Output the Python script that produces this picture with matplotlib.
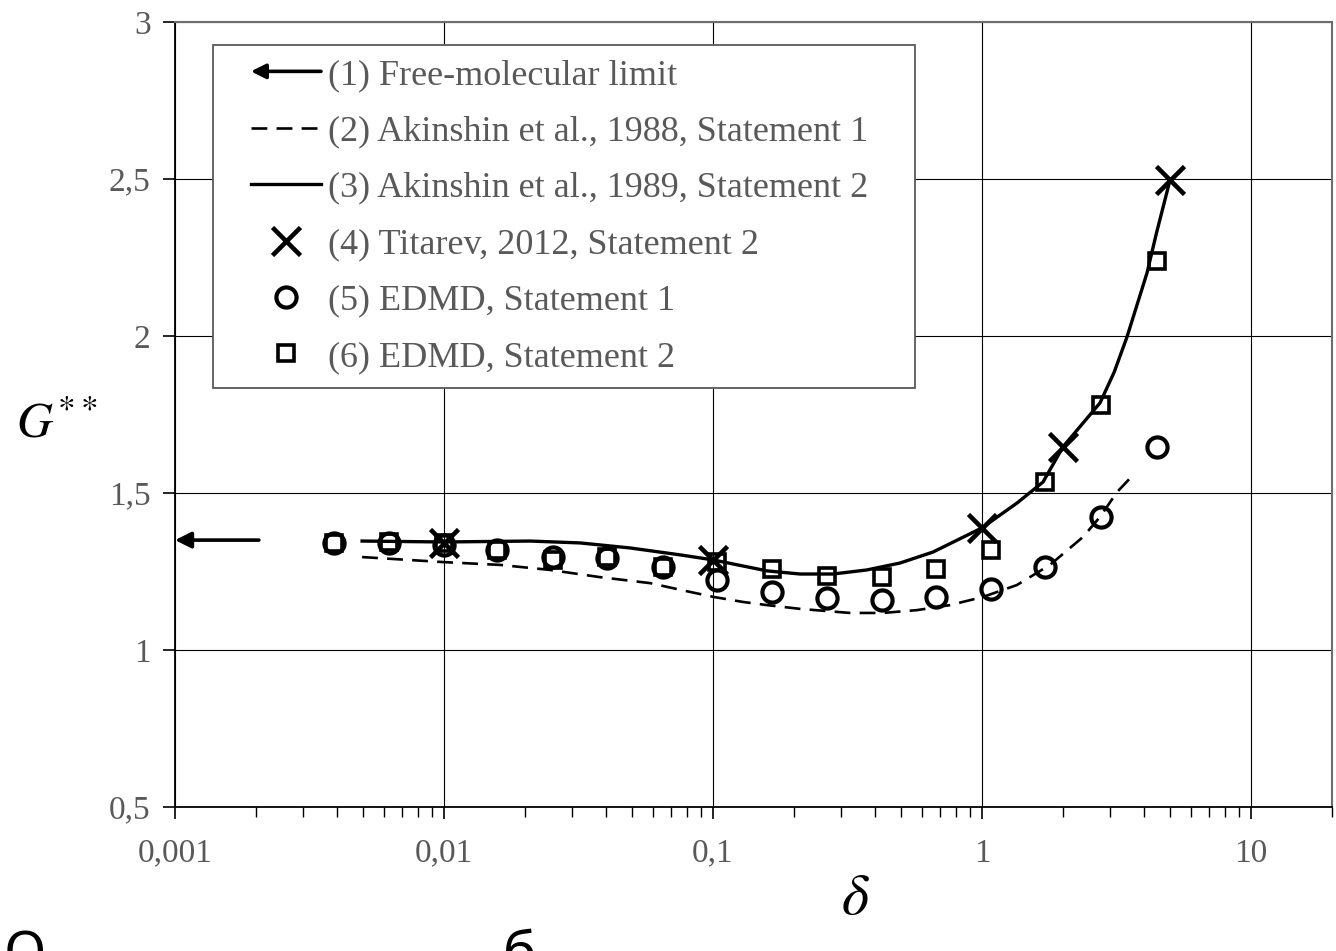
import matplotlib
matplotlib.use("Agg")
import matplotlib.pyplot as plt
from matplotlib.lines import Line2D
from matplotlib.patches import FancyArrowPatch
from matplotlib.legend_handler import HandlerBase, HandlerLine2D
from matplotlib.ticker import FixedLocator, FixedFormatter, LogLocator, NullFormatter

# ---------------- data ----------------
fm_x = [0.00205, 0.001]          # free-molecular limit arrow (from, to)
fm_y = [1.35, 1.35]

akin88_x = [0.00496, 0.00992, 0.01616, 0.02478, 0.03802, 0.05832, 0.08214, 0.1005,
            0.1293, 0.1588, 0.2106, 0.3231, 0.4285, 0.5733, 0.7603, 1.0086, 1.349,
            1.789, 2.374, 2.746, 3.177, 3.641]
akin88_y = [1.296, 1.280, 1.271, 1.255, 1.232, 1.213, 1.185, 1.169,
            1.153, 1.143, 1.131, 1.118, 1.118, 1.127, 1.143, 1.169, 1.207,
            1.271, 1.360, 1.424, 1.503, 1.557]

akin89_x = [0.00496, 0.01, 0.02088, 0.03203, 0.04914, 0.0754, 0.1, 0.1588, 0.2106,
            0.2793, 0.3737, 0.4957, 0.6575, 1.0, 1.349, 1.686, 2.0, 2.746, 3.1,
            3.459, 4.106, 4.452, 5.0]
akin89_y = [1.347, 1.344, 1.347, 1.341, 1.325, 1.303, 1.287, 1.252, 1.242,
            1.242, 1.255, 1.277, 1.312, 1.389, 1.468, 1.535, 1.647, 1.787, 1.885,
            1.997, 2.201, 2.328, 2.497]

titarev_x = [0.01, 0.1, 1.0, 2.0, 5.0]
titarev_y = [1.34, 1.287, 1.389, 1.647, 2.497]

edmd1_x = [0.0039, 0.00625, 0.01, 0.01574, 0.0254, 0.0403, 0.0652, 0.1035, 0.1656,
           0.2652, 0.4249, 0.6749, 1.08, 1.714, 2.77, 4.48]
edmd1_y = [1.341, 1.341, 1.335, 1.318, 1.296, 1.293, 1.264, 1.223, 1.185,
           1.166, 1.159, 1.169, 1.194, 1.264, 1.424, 1.647]

edmd2_x = [0.0039, 0.00625, 0.01, 0.01574, 0.0254, 0.0403, 0.0652, 0.1035, 0.1656,
           0.2652, 0.4249, 0.6749, 1.08, 1.714, 2.77, 4.48]
edmd2_y = [1.341, 1.345, 1.34, 1.32, 1.287, 1.297, 1.265, 1.28, 1.258,
           1.236, 1.233, 1.258, 1.318, 1.535, 1.78, 2.239]

labels = ["(1) Free-molecular limit",
          "(2) Akinshin et al., 1988, Statement 1",
          "(3) Akinshin et al., 1989, Statement 2",
          "(4) Titarev, 2012, Statement 2",
          "(5) EDMD, Statement 1",
          "(6) EDMD, Statement 2"]

xticks = [0.001, 0.01, 0.1, 1, 10]
xticklabels = ["0,001", "0,01", "0,1", "1", "10"]
yticks = [0.5, 1, 1.5, 2, 2.5, 3]
yticklabels = ["0,5", "1", "1,5", "2", "2,5", "3"]

# ---------------- style ----------------
plt.rcParams['mathtext.fontset'] = 'stix'
SERIF = 'Liberation Serif'
GRAY = '#595959'

fig = plt.figure(figsize=(13.36, 9.51), dpi=100)
ax = fig.add_axes([175/1336, 1-807/951, (1332-175)/1336, (807-22)/951])

ax.set_xscale('log')
ax.set_xlim(0.001, 20)
ax.set_ylim(0.5, 3)

# grid
ax.grid(True, which='major', color='black', lw=0.8)
ax.set_axisbelow(True)

# lines
ax.annotate('', xy=(fm_x[1], fm_y[1]), xytext=(fm_x[0], fm_y[0]),
            arrowprops=dict(arrowstyle='-|>', lw=2.6, color='black',
                            mutation_scale=24, shrinkA=0, shrinkB=0))
l2, = ax.plot(akin88_x, akin88_y, color='black', lw=1.9, ls=(0, (6, 3.5)))
l3, = ax.plot(akin89_x, akin89_y, color='black', lw=2.4)
l4, = ax.plot(titarev_x, titarev_y, ls='none', marker='x', ms=20, mew=3.3,
              color='black')
l5, = ax.plot(edmd1_x, edmd1_y, ls='none', marker='o', ms=14.5, mew=3.0,
              mfc='none', mec='black')
l6, = ax.plot(edmd2_x, edmd2_y, ls='none', marker='s', ms=12, mew=2.6,
              mfc='none', mec='black')

# ticks
ax.xaxis.set_major_locator(FixedLocator(xticks))
ax.xaxis.set_major_formatter(FixedFormatter(xticklabels))
ax.xaxis.set_minor_locator(LogLocator(base=10, subs=range(2, 10), numticks=20))
ax.xaxis.set_minor_formatter(NullFormatter())
ax.yaxis.set_major_locator(FixedLocator(yticks))
ax.yaxis.set_major_formatter(FixedFormatter(yticklabels))

ax.tick_params(axis='x', which='major', direction='out', length=8.5, width=1.2,
               color='black', pad=14, labelsize=24, labelcolor=GRAY)
ax.tick_params(axis='x', which='minor', direction='out', length=7, width=1.0,
               color='black')
ax.tick_params(axis='y', which='major', direction='out', length=8.5, width=1.2,
               color='black', pad=9, labelsize=24, labelcolor=GRAY)
for lab in ax.get_xticklabels() + ax.get_yticklabels():
    lab.set_fontfamily(SERIF)

for s in ['left', 'bottom']:
    ax.spines[s].set_color('black')
    ax.spines[s].set_linewidth(1.3)
for s in ['top', 'right']:
    ax.spines[s].set_color('#6d6d6d')
    ax.spines[s].set_linewidth(1.5)

# legend
class HandlerArrow(HandlerBase):
    def create_artists(self, legend, orig_handle, xdescent, ydescent, width,
                       height, fontsize, trans):
        y = -ydescent + height / 2
        arr = FancyArrowPatch((-xdescent + width, y), (-xdescent, y),
                              arrowstyle='-|>', mutation_scale=22, lw=2.6,
                              color='black', shrinkA=0, shrinkB=0,
                              transform=trans)
        return [arr]

arrow_proxy = FancyArrowPatch((0, 0), (1, 0))
hl = HandlerLine2D(xpad=0.67, numpoints=1)
leg = ax.legend([arrow_proxy, l2, l3, l4, l5, l6], labels,
                handler_map={arrow_proxy: HandlerArrow(xpad=0.67), Line2D: hl},
                loc='upper left', bbox_to_anchor=(38/1157, 0.5, 702/1157, (807-45)/785 - 0.5),
                mode='expand', borderaxespad=0, borderpad=0.38,
                handlelength=2.61, handletextpad=0.2, labelspacing=0.64,
                fancybox=False, framealpha=1, edgecolor=GRAY,
                prop={'family': SERIF, 'size': 26})
leg.get_frame().set_linewidth(1.3)
for t in leg.get_texts():
    t.set_color(GRAY)

# axis labels
fig.text(16/1336, 1-438/951, r'$G^{**}$', fontsize=36, ha='left', va='baseline')
fig.text(855/1336, 1-914/951, r'$\delta$', fontsize=42, ha='center', va='baseline')

# cut-off caption fragments at the bottom edge (as in the reference)
fig.text(4/1336, -0.02, 'О', fontsize=40, family='Noto Sans', ha='left', va='baseline')
fig.text(503/1336, -0.02, 'б', fontsize=40, family='Noto Sans', ha='left', va='baseline')

fig.savefig('out.png', dpi=100)
